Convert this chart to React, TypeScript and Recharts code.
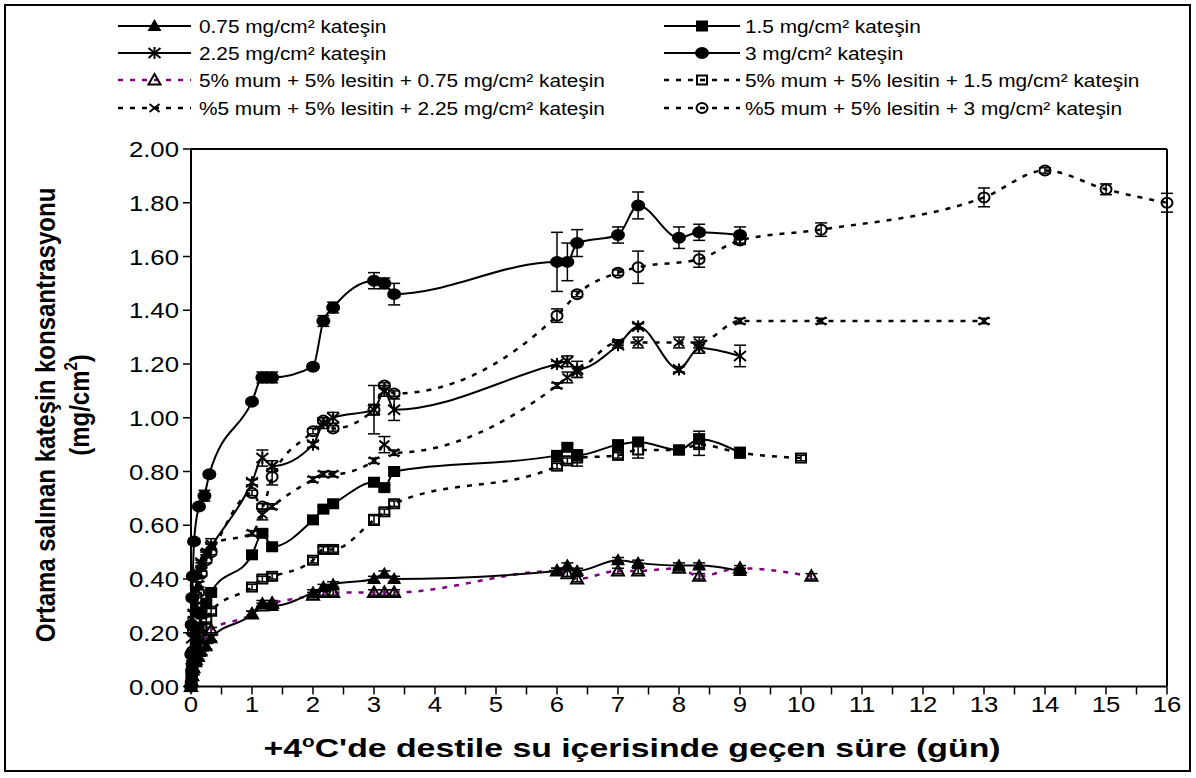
import React from 'react';
import { LineChart, Line, XAxis, YAxis, ErrorBar } from 'recharts';

// time points (days)
const tEarly = [0, 0.01, 0.02, 0.04, 0.08, 0.125, 0.17, 0.25, 0.33];
const tMain = [1, 1.17, 1.33, 2, 2.17, 2.33, 3, 3.17, 3.33, 6, 6.17, 6.33, 7, 7.33, 8, 8.33, 9];

// 0.75 mg/cm² kateşin
const tA = [...tEarly, ...tMain];
const yA = [0.0, 0.02, 0.04, 0.06, 0.09, 0.11, 0.13, 0.15, 0.18, 0.27, 0.31, 0.3, 0.35, 0.37, 0.38, 0.4, 0.42, 0.4, 0.43, 0.45, 0.43, 0.47, 0.46, 0.45, 0.45, 0.43];
const eA = [0, 0, 0, 0, 0.01, 0.01, 0.01, 0.01, 0.01, 0.01, 0.01, 0.01, 0.01, 0.01, 0.01, 0.01, 0.01, 0.01, 0.01, 0.01, 0.01, 0.01, 0.01, 0.01, 0.01, 0.01];

// 1.5 mg/cm² kateşin
const tB = [...tEarly, ...tMain];
const yB = [0.0, 0.04, 0.08, 0.12, 0.17, 0.22, 0.27, 0.31, 0.35, 0.49, 0.57, 0.52, 0.62, 0.66, 0.68, 0.76, 0.74, 0.8, 0.86, 0.89, 0.86, 0.9, 0.91, 0.88, 0.92, 0.87];
const eB = [0, 0, 0, 0.01, 0.01, 0.01, 0.01, 0.01, 0.01, 0.01, 0.01, 0.01, 0.01, 0.01, 0.01, 0.01, 0.01, 0.01, 0.01, 0.01, 0.02, 0.01, 0.01, 0.01, 0.03, 0.02];

// 2.25 mg/cm² kateşin
const tC = [...tEarly, ...tMain];
const yC = [0.0, 0.1, 0.18, 0.27, 0.36, 0.42, 0.46, 0.49, 0.52, 0.76, 0.85, 0.82, 0.9, 0.98, 1.0, 1.03, 1.1, 1.03, 1.2, 1.21, 1.18, 1.27, 1.34, 1.18, 1.26, 1.23];
const eC = [0, 0, 0, 0.01, 0.01, 0.01, 0.01, 0.01, 0.01, 0.01, 0.03, 0.02, 0.01, 0.02, 0.02, 0.09, 0.02, 0.04, 0.01, 0.02, 0.03, 0.01, 0.01, 0.01, 0.02, 0.04];

// 3 mg/cm² kateşin
const tD = [0, 0.005, 0.01, 0.02, 0.03, 0.05, 0.13, 0.22, 0.3, ...tMain];
const yD = [0.0, 0.12, 0.23, 0.33, 0.41, 0.54, 0.67, 0.71, 0.79, 1.06, 1.15, 1.15, 1.19, 1.36, 1.41, 1.51, 1.5, 1.46, 1.58, 1.58, 1.65, 1.68, 1.79, 1.67, 1.69, 1.68];
const eD = [0, 0.01, 0.01, 0.01, 0.01, 0.01, 0.01, 0.02, 0.01, 0.01, 0.02, 0.02, 0.01, 0.02, 0.02, 0.03, 0.02, 0.04, 0.11, 0.07, 0.05, 0.03, 0.05, 0.04, 0.03, 0.03];

// 5% mum + 5% lesitin + 0.75
const tE = [...tEarly, ...tMain, 10.17];
const yE = [0.0, 0.02, 0.04, 0.07, 0.1, 0.13, 0.15, 0.18, 0.21, 0.27, 0.3, 0.31, 0.34, 0.35, 0.35, 0.35, 0.35, 0.35, 0.43, 0.42, 0.4, 0.43, 0.43, 0.44, 0.41, 0.44, 0.41];
const eE = [0, 0, 0, 0, 0.01, 0.01, 0.01, 0.01, 0.01, 0.01, 0.01, 0.01, 0.01, 0.01, 0.01, 0.01, 0.01, 0.01, 0.01, 0.01, 0.01, 0.01, 0.01, 0.01, 0.01, 0.01, 0.01];

// 5% mum + 5% lesitin + 1.5
const tF = [...tEarly, ...tMain, 10];
const yF = [0.0, 0.03, 0.06, 0.1, 0.14, 0.18, 0.22, 0.25, 0.28, 0.37, 0.4, 0.41, 0.47, 0.51, 0.51, 0.62, 0.65, 0.68, 0.82, 0.84, 0.85, 0.86, 0.88, 0.88, 0.9, 0.87, 0.85];
const eF = [0, 0, 0, 0, 0.01, 0.01, 0.01, 0.01, 0.01, 0.01, 0.01, 0.01, 0.01, 0.01, 0.01, 0.02, 0.01, 0.01, 0.01, 0.01, 0.03, 0.01, 0.03, 0.01, 0.04, 0.01, 0.01];

// %5 mum + 5% lesitin + 2.25
const tG = [...tEarly, ...tMain, 10.33, 13];
const yG = [0.0, 0.05, 0.12, 0.2, 0.3, 0.38, 0.45, 0.5, 0.53, 0.57, 0.64, 0.67, 0.77, 0.79, 0.79, 0.84, 0.9, 0.87, 1.12, 1.15, 1.17, 1.28, 1.28, 1.28, 1.28, 1.36, 1.36, 1.36];
const eG = [0, 0, 0, 0.01, 0.01, 0.01, 0.01, 0.01, 0.02, 0.01, 0.02, 0.01, 0.01, 0.01, 0.01, 0.01, 0.03, 0.01, 0.01, 0.02, 0.02, 0.01, 0.02, 0.02, 0.02, 0.01, 0.01, 0.01];

// %5 mum + 5% lesitin + 3
const tH = [...tEarly, 1, 1.17, 1.33, 2, 2.17, 2.33, 3, 3.17, 3.33, 6, 6.33, 7, 7.33, 8.33, 9, 10.33, 13, 14, 15, 16];
const yH = [0.0, 0.06, 0.13, 0.21, 0.28, 0.35, 0.42, 0.47, 0.5, 0.72, 0.67, 0.78, 0.95, 0.99, 0.96, 1.03, 1.12, 1.09, 1.38, 1.46, 1.54, 1.56, 1.59, 1.66, 1.7, 1.82, 1.92, 1.85, 1.8];
const eH = [0, 0, 0, 0.01, 0.01, 0.01, 0.01, 0.01, 0.01, 0.01, 0.01, 0.03, 0.01, 0.01, 0.01, 0.02, 0.01, 0.01, 0.025, 0.01, 0.01, 0.06, 0.03, 0.015, 0.025, 0.035, 0.01, 0.02, 0.035];

const xTicks = [0, 0.5, 1, 1.5, 2, 2.5, 3, 3.5, 4, 4.5, 5, 5.5, 6, 6.5, 7, 7.5, 8, 8.5, 9, 9.5, 10, 10.5, 11, 11.5, 12, 12.5, 13, 13.5, 14, 14.5, 15, 15.5, 16];
const yTicks = [0, 0.2, 0.4, 0.6, 0.8, 1.0, 1.2, 1.4, 1.6, 1.8, 2.0];

const FONT = "'Liberation Sans', Arial, sans-serif";
const SX = 1.17; // horizontal stretch of the original picture
const PURPLE = '#800080';
const DASH = '5 7';

type Kind = 'tri' | 'sq' | 'star' | 'dot' | 'otri' | 'osq' | 'x' | 'odot';

const marker = (kind: Kind, cx: number, cy: number, key?: string) => {
  switch (kind) {
    case 'tri':
      return <polygon key={key} points={`${cx - 7},${cy + 5} ${cx + 7},${cy + 5} ${cx},${cy - 7}`} fill="#000" />;
    case 'sq':
      return <rect key={key} x={cx - 6} y={cy - 5.5} width={12} height={11} fill="#000" />;
    case 'dot':
      return <ellipse key={key} cx={cx} cy={cy} rx={7} ry={6} fill="#000" />;
    case 'star':
      return (
        <g key={key} stroke="#000" strokeWidth={2}>
          <line x1={cx - 6} y1={cy - 5} x2={cx + 6} y2={cy + 5} />
          <line x1={cx - 6} y1={cy + 5} x2={cx + 6} y2={cy - 5} />
          <line x1={cx} y1={cy - 6} x2={cx} y2={cy + 6} />
        </g>
      );
    case 'otri':
      return <polygon key={key} points={`${cx - 6},${cy + 4.5} ${cx + 6},${cy + 4.5} ${cx},${cy - 6}`} fill="none" stroke="#000" strokeWidth={2} />;
    case 'osq':
      return <rect key={key} x={cx - 5} y={cy - 4.5} width={10} height={9} fill="none" stroke="#000" strokeWidth={2} />;
    case 'x':
      return (
        <g key={key} stroke="#000" strokeWidth={2}>
          <line x1={cx - 5} y1={cy - 4} x2={cx + 5} y2={cy + 4} />
          <line x1={cx - 5} y1={cy + 4} x2={cx + 5} y2={cy - 4} />
        </g>
      );
    case 'odot':
      return <ellipse key={key} cx={cx} cy={cy} rx={5.5} ry={5} fill="none" stroke="#000" strokeWidth={2} />;
  }
};

interface Series {
  id: string;
  name: string;
  t: number[];
  y: number[];
  e: number[];
  kind: Kind;
  dashed: boolean;
  color: string;
}

const series: Series[] = [
  { id: 'E', name: '5% mum + 5% lesitin + 0.75 mg/cm² kateşin', t: tE, y: yE, e: eE, kind: 'otri', dashed: true, color: PURPLE },
  { id: 'F', name: '5% mum + 5% lesitin + 1.5 mg/cm² kateşin', t: tF, y: yF, e: eF, kind: 'osq', dashed: true, color: '#000' },
  { id: 'G', name: '%5 mum + 5% lesitin + 2.25 mg/cm² kateşin', t: tG, y: yG, e: eG, kind: 'x', dashed: true, color: '#000' },
  { id: 'H', name: '%5 mum + 5% lesitin + 3 mg/cm² kateşin', t: tH, y: yH, e: eH, kind: 'odot', dashed: true, color: '#000' },
  { id: 'A', name: '0.75 mg/cm² kateşin', t: tA, y: yA, e: eA, kind: 'tri', dashed: false, color: '#000' },
  { id: 'B', name: '1.5 mg/cm² kateşin', t: tB, y: yB, e: eB, kind: 'sq', dashed: false, color: '#000' },
  { id: 'C', name: '2.25 mg/cm² kateşin', t: tC, y: yC, e: eC, kind: 'star', dashed: false, color: '#000' },
  { id: 'D', name: '3 mg/cm² kateşin', t: tD, y: yD, e: eD, kind: 'dot', dashed: false, color: '#000' },
];

// legend placement: [series id, column, row]
const legendOrder: [string, number, number][] = [
  ['A', 0, 0], ['B', 1, 0],
  ['C', 0, 1], ['D', 1, 1],
  ['E', 0, 2], ['F', 1, 2],
  ['G', 0, 3], ['H', 1, 3],
];
const legendCols = [{ x1: 118, x2: 191, text: 199 }, { x1: 664, x2: 740, text: 745 }];
const legendRowY = [26, 53, 80, 108];

const YTick = (props: any) => {
  const { x, y, payload } = props;
  return (
    <text transform={`translate(${x},${y}) scale(${SX},1)`} textAnchor="end" dy={8} fontSize={22} fill="#000" fontFamily={FONT}>
      {Number(payload.value).toFixed(2)}
    </text>
  );
};

const XTick = (props: any) => {
  const { x, y, payload } = props;
  if (!Number.isInteger(payload.value)) return <g />;
  return (
    <text transform={`translate(${x},${y}) scale(${SX},1)`} textAnchor="middle" dy={15} fontSize={22} fill="#000" fontFamily={FONT}>
      {payload.value}
    </text>
  );
};

export default function App() {
  const L = 191;
  const T = 149;
  const R = 1167;
  const B = 686.5;
  return (
    <div style={{ position: 'absolute', left: 0, top: 0, width: 1196, height: 778, background: '#fff', fontFamily: FONT }}>
      <LineChart width={1196} height={778} margin={{ top: T, right: 1196 - R, left: 0, bottom: 0 }}>
        <XAxis
          type="number"
          dataKey="x"
          domain={[0, 16]}
          ticks={xTicks}
          interval={0}
          height={778 - B}
          tick={<XTick />}
          tickSize={8}
          tickMargin={2}
          axisLine={{ stroke: '#000', strokeWidth: 2 }}
          tickLine={{ stroke: '#000', strokeWidth: 1.5 }}
          allowDuplicatedCategory={false}
        />
        <YAxis
          type="number"
          domain={[0, 2]}
          ticks={yTicks}
          interval={0}
          width={L}
          tick={<YTick />}
          tickSize={8}
          tickMargin={4}
          axisLine={{ stroke: '#000', strokeWidth: 2 }}
          tickLine={{ stroke: '#000', strokeWidth: 1.5 }}
        />
        {series.map((s) => (
          <Line
            key={s.id}
            data={s.t.map((t, i) => ({ x: t, y: s.y[i], e: s.e[i] }))}
            dataKey="y"
            name={s.name}
            type="monotone"
            stroke={s.color}
            strokeWidth={s.dashed ? 2.5 : 2}
            strokeDasharray={s.dashed ? DASH : undefined}
            dot={(p: any) =>
              p.cx == null ? <g key={`${s.id}-${p.index}`} /> : marker(s.kind, p.cx, p.cy, `${s.id}-${p.index}`)
            }
            activeDot={false}
            isAnimationActive={false}
          >
            <ErrorBar dataKey="e" direction="y" width={6} stroke="#000" strokeWidth={1.5} />
          </Line>
        ))}
      </LineChart>

      <svg width={1196} height={778} style={{ position: 'absolute', left: 0, top: 0, pointerEvents: 'none' }} fontFamily={FONT}>
        <rect x={5} y={5} width={1185} height={766} fill="none" stroke="#000" strokeWidth={2} />
        <line x1={L} y1={T} x2={R} y2={T} stroke="#000" strokeWidth={2} />
        <line x1={R} y1={T} x2={R} y2={B} stroke="#000" strokeWidth={2} />

        {legendOrder.map(([id, c, r]) => {
          const s = series.find((q) => q.id === id)!;
          const col = legendCols[c];
          const y = legendRowY[r];
          const mx = (col.x1 + col.x2) / 2;
          return (
            <g key={id}>
              <line
                x1={col.x1}
                y1={y}
                x2={col.x2}
                y2={y}
                stroke={s.color}
                strokeWidth={s.dashed ? 2.5 : 2}
                strokeDasharray={s.dashed ? DASH : undefined}
              />
              {marker(s.kind, mx, y)}
              <text transform={`translate(${col.text},${y}) scale(1.19,1)`} dy={6.5} fontSize={17.5} fill="#000">
                {s.name}
              </text>
            </g>
          );
        })}

        <text transform={`translate(55,415) rotate(-90) scale(1,${SX})`} textAnchor="middle" fontSize={24} fontWeight="bold" fill="#000">
          Ortama salınan kateşin konsantrasyonu
        </text>
        <text transform={`translate(89,405) rotate(-90) scale(1,${SX})`} textAnchor="middle" fontSize={24} fontWeight="bold" fill="#000">
          (mg/cm
          <tspan fontSize={15} dy={-10}>2</tspan>
          <tspan dy={10}>)</tspan>
        </text>
        <text transform={`translate(632,757) scale(1.3,1)`} textAnchor="middle" fontSize={26} fontWeight="bold" fill="#000">
          +4
          <tspan fontSize={16} dy={-10}>o</tspan>
          <tspan dy={10}>C'de destile su içerisinde geçen süre (gün)</tspan>
        </text>
      </svg>
    </div>
  );
}
